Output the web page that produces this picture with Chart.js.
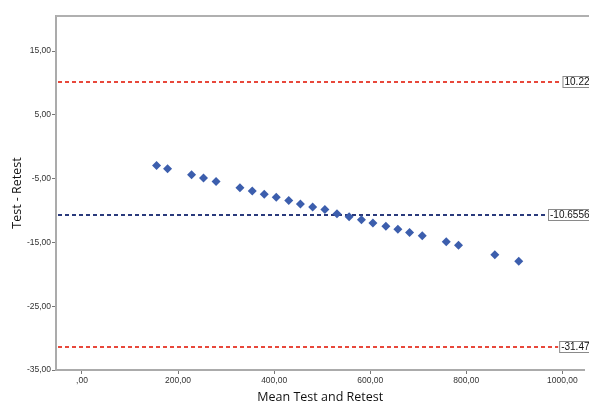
<!DOCTYPE html>
<html>
<head>
<meta charset="utf-8">
<script src="https://cdn.jsdelivr.net/npm/chart.js@4.4.1/dist/chart.umd.min.js"></script>
<style>
  html, body { margin: 0; padding: 0; background: #fff; overflow: hidden; }
  #wrap { width: 589px; height: 405px; position: relative; }
</style>
</head>
<body>
<div id="wrap"><canvas id="c" width="589" height="405"></canvas></div>
<script>
// Data
const meanValues = [155.3, 178.2, 228.1, 253.0, 279.2, 328.9, 354.5, 379.4, 404.4, 430.4,
                    454.7, 480.2, 505.6, 530.8, 556.1, 581.7, 605.6, 632.6, 657.6, 681.9,
                    708.3, 758.2, 783.8, 859.3, 909.1];
const diffValues = [-2.94, -3.45, -4.39, -4.91, -5.44, -6.44, -6.94, -7.44, -7.91, -8.41,
                    -8.97, -9.44, -9.82, -10.49, -10.99, -11.43, -11.95, -12.48, -12.95, -13.46,
                    -13.96, -14.90, -15.45, -16.95, -17.95];
const xTickValues = [0, 200, 400, 600, 800, 1000];
const yTickValues = [15, 5, -5, -15, -25, -35];
const refValues = [10.22, -10.6556, -31.47];
const refLabels = ['10.22', '-10.6556', '-31.47'];
const refColors = ['#e8483b', '#2a3a7c', '#e8483b'];

function fmt(v) {
  let s = Math.abs(v).toFixed(2).replace('.', ',');
  if (Math.abs(v) < 1) s = s.replace(/^0/, '');
  return (v < 0 ? '-' : '') + s;
}

const refPlugin = {
  id: 'refLines',
  beforeDatasetsDraw(chart) {
    const ctx = chart.ctx, area = chart.chartArea, ys = chart.scales.y;
    ctx.save();
    // top border
    ctx.strokeStyle = '#b0b0b0';
    ctx.lineWidth = 2;
    ctx.beginPath();
    ctx.moveTo(area.left, area.top);
    ctx.lineTo(chart.width, area.top);
    ctx.stroke();
    ctx.font = '10px "Liberation Sans", Arial, sans-serif';
    refValues.forEach((v, i) => {
      const y = Math.round(ys.getPixelForValue(v));
      const tw = ctx.measureText(refLabels[i]).width;
      const boxRight = area.right + 7;
      const boxLeft = boxRight - tw - 4;
      ctx.setLineDash([4, 3]);
      ctx.strokeStyle = refColors[i];
      ctx.lineWidth = 2;
      ctx.beginPath();
      ctx.moveTo(area.left + 2, y);
      ctx.lineTo(boxLeft - 1, y);
      ctx.stroke();
      ctx.setLineDash([]);
      ctx.fillStyle = '#fff';
      ctx.fillRect(boxLeft, y - 6, tw + 4, 12);
      ctx.strokeStyle = '#8a8a8a';
      ctx.lineWidth = 1;
      ctx.strokeRect(boxLeft + 0.5, y - 6 + 0.5, tw + 3, 11);
      ctx.fillStyle = '#111';
      ctx.textBaseline = 'middle';
      ctx.textAlign = 'left';
      ctx.fillText(refLabels[i], boxLeft + 2, y + 0.5);
    });
    ctx.restore();
  }
};

new Chart(document.getElementById('c'), {
  type: 'scatter',
  data: {
    datasets: [{
      data: meanValues.map((x, i) => ({ x: x, y: diffValues[i] })),
      pointStyle: 'rectRot',
      pointRadius: 4.5,
      pointHoverRadius: 4.5,
      backgroundColor: '#3c5ead',
      borderColor: '#3c5ead',
      borderWidth: 0
    }]
  },
  options: {
    responsive: false,
    animation: false,
    events: [],
    layout: { padding: { top: 16, right: 0, left: 0, bottom: 0 } },
    plugins: { legend: { display: false }, tooltip: { enabled: false } },
    scales: {
      x: {
        type: 'linear',
        min: -54,
        max: 1046,
        afterBuildTicks: s => { s.ticks = xTickValues.map(v => ({ value: v })); },
        afterFit: s => { s.height = 35; },
        ticks: {
          callback: v => fmt(v),
          font: { size: 8.5, family: '"Liberation Sans", Arial, sans-serif' },
          color: '#333',
          padding: 2,
          maxRotation: 0,
          autoSkip: false
        },
        grid: { drawOnChartArea: false, drawTicks: true, tickLength: 4, color: '#777' },
        border: { display: true, color: '#ababab', width: 2 },
        title: {
          display: true,
          text: 'Mean Test and Retest',
          font: { size: 12.5, family: '"Open Sans", sans-serif' },
          color: '#111',
          padding: { top: 0, bottom: 0 }
        }
      },
      y: {
        type: 'linear',
        min: -35,
        max: 20.5,
        afterBuildTicks: s => { s.ticks = yTickValues.map(v => ({ value: v })); },
        afterFit: s => { s.width = 56; },
        ticks: {
          callback: v => fmt(v),
          font: { size: 8.5, family: '"Liberation Sans", Arial, sans-serif' },
          color: '#333',
          padding: 1,
          autoSkip: false
        },
        grid: { drawOnChartArea: false, drawTicks: true, tickLength: 4, color: '#777' },
        border: { display: true, color: '#ababab', width: 2 },
        title: {
          display: true,
          text: 'Test - Retest',
          font: { size: 12.5, family: '"Open Sans", sans-serif' },
          color: '#111',
          padding: { top: 10, bottom: 0 }
        }
      }
    }
  },
  plugins: [refPlugin]
});
</script>
</body>
</html>
